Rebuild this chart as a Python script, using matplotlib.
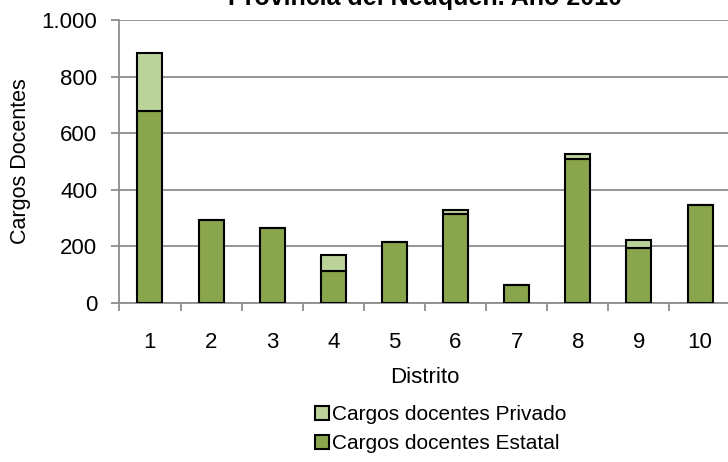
import matplotlib.pyplot as plt
import numpy as np
from matplotlib.ticker import FuncFormatter, FixedLocator

plt.rcParams['font.family'] = ['Liberation Sans', 'DejaVu Sans']

distritos = ['1', '2', '3', '4', '5', '6', '7', '8', '9', '10']
estatal = [678, 292, 264, 112, 215, 314, 64, 508, 194, 346]
privado = [206, 0, 0, 59, 0, 15, 0, 17, 29, 0]

c_estatal = '#8aa64c'
c_privado = '#bcd29b'
grid_c = '#8c8c8c'

fig = plt.figure(figsize=(7.28, 4.62), dpi=100)
ax = fig.add_axes([119.4/728, 1 - 303/462, 611.2/728, 283/462])

x = np.arange(len(distritos))
b1 = ax.bar(x, estatal, width=0.41, color=c_estatal, edgecolor='black', linewidth=1.5,
            label='Cargos docentes Estatal', zorder=3)
b2 = ax.bar(x, privado, bottom=estatal, width=0.41, color=c_privado, edgecolor='black',
            linewidth=1.5, label='Cargos docentes Privado', zorder=3)

ax.set_xlim(-0.5, len(distritos) - 0.5)
ax.set_ylim(0, 1000)
ax.set_yticks(range(0, 1001, 200))
ax.yaxis.set_major_formatter(FuncFormatter(lambda v, p: f'{int(v):,}'.replace(',', '.')))
ax.yaxis.grid(True, color=grid_c, linewidth=1.3, zorder=0)

ax.set_xticks(x)
ax.set_xticklabels(distritos)
ax.xaxis.set_minor_locator(FixedLocator(np.arange(-0.5, len(distritos), 1)))
ax.tick_params(axis='x', which='major', length=0, pad=21, labelsize=16)
ax.tick_params(axis='x', which='minor', length=5.5, color=grid_c, width=1.3, direction='out')
ax.tick_params(axis='y', length=5.8, color=grid_c, width=1.3, direction='out', labelsize=16, pad=10)

for s in ['top', 'right']:
    ax.spines[s].set_visible(False)
for s in ['left', 'bottom']:
    ax.spines[s].set_color(grid_c)
    ax.spines[s].set_linewidth(1.3)

ax.set_xlabel('Distrito', fontsize=16, labelpad=10)
ax.set_ylabel('Cargos Docentes', fontsize=15.5, labelpad=8)

fig.text(425/728, 1 - 5/462, 'Provincia del Neuquén. Año 2010', ha='center', va='baseline',
         fontsize=18, fontweight='bold')

fig.legend([b2, b1], ['Cargos docentes Privado', 'Cargos docentes Estatal'],
           loc='upper right', bbox_to_anchor=(566/728, 1 - 405/462), frameon=False,
           fontsize=15, handlelength=0.65, handleheight=0.65, handletextpad=0.15,
           labelspacing=0.5, borderpad=0, borderaxespad=0)

fig.savefig('out.png', dpi=100)
